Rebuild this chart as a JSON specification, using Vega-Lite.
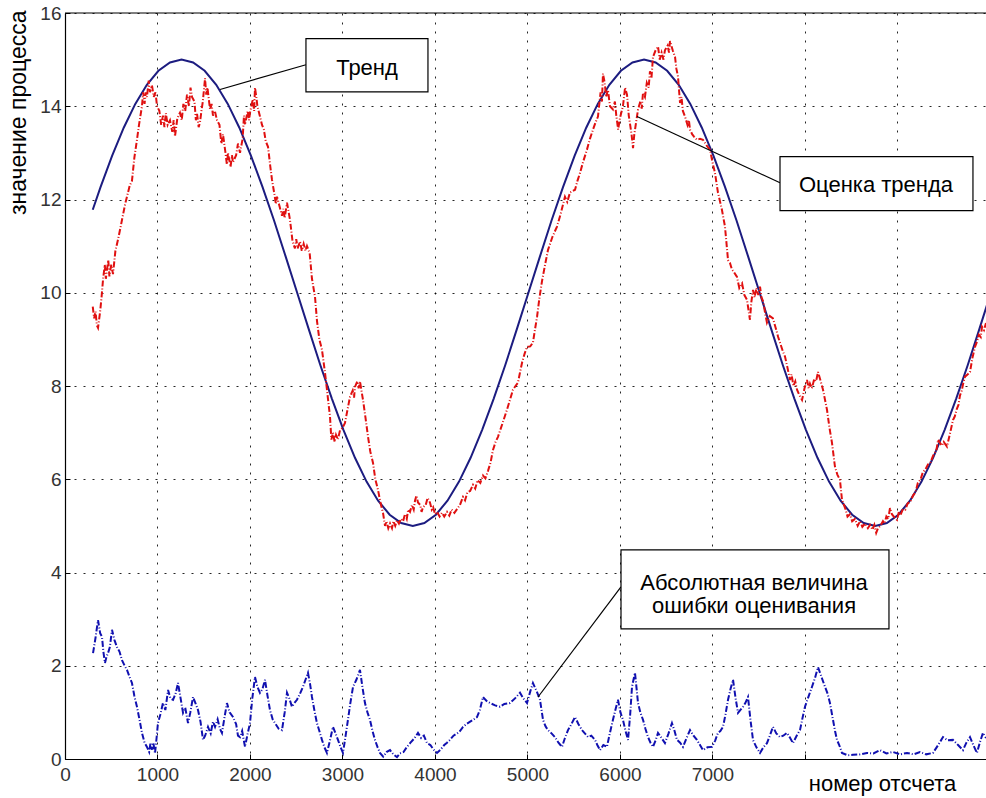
{
  "$schema": "https://vega.github.io/schema/vega-lite/v6.json",
  "width": 921,
  "height": 746,
  "autosize": {"type": "none"},
  "padding": {"left": 65, "top": 13, "right": 0, "bottom": 39},
  "background": "white",
  "config": {"font": "Liberation Sans", "view": {"stroke": null}},
  "datasets": {
    "trend": [
      {"x": 300, "y": 11.78}, {"x": 385, "y": 12.27}, {"x": 510, "y": 12.94}, {"x": 635, "y": 13.54}, {"x": 760, "y": 14.05}, {"x": 885, "y": 14.46}, {"x": 1010, "y": 14.76}, {"x": 1135, "y": 14.94}, {"x": 1260, "y": 15}, {"x": 1385, "y": 14.94}, {"x": 1510, "y": 14.76}, {"x": 1635, "y": 14.46}, {"x": 1760, "y": 14.05}, {"x": 1885, "y": 13.54}, {"x": 2010, "y": 12.94}, {"x": 2135, "y": 12.27}, {"x": 2260, "y": 11.55}, {"x": 2385, "y": 10.78}, {"x": 2510, "y": 10}, {"x": 2635, "y": 9.22}, {"x": 2760, "y": 8.45}, {"x": 2885, "y": 7.73}, {"x": 3010, "y": 7.06}, {"x": 3135, "y": 6.46}, {"x": 3260, "y": 5.95}, {"x": 3385, "y": 5.54}, {"x": 3510, "y": 5.24}, {"x": 3635, "y": 5.06}, {"x": 3760, "y": 5}, {"x": 3885, "y": 5.06}, {"x": 4010, "y": 5.24}, {"x": 4135, "y": 5.54}, {"x": 4260, "y": 5.95}, {"x": 4385, "y": 6.46}, {"x": 4510, "y": 7.06}, {"x": 4635, "y": 7.73}, {"x": 4760, "y": 8.45}, {"x": 4885, "y": 9.22}, {"x": 5010, "y": 10}, {"x": 5135, "y": 10.78}, {"x": 5260, "y": 11.55}, {"x": 5385, "y": 12.27}, {"x": 5510, "y": 12.94}, {"x": 5635, "y": 13.54}, {"x": 5760, "y": 14.05}, {"x": 5885, "y": 14.46}, {"x": 6010, "y": 14.76}, {"x": 6135, "y": 14.94}, {"x": 6260, "y": 15}, {"x": 6385, "y": 14.94}, {"x": 6510, "y": 14.76}, {"x": 6635, "y": 14.46}, {"x": 6760, "y": 14.05}, {"x": 6885, "y": 13.54}, {"x": 7010, "y": 12.94}, {"x": 7135, "y": 12.27}, {"x": 7260, "y": 11.55}, {"x": 7385, "y": 10.78}, {"x": 7510, "y": 10}, {"x": 7635, "y": 9.22}, {"x": 7760, "y": 8.45}, {"x": 7885, "y": 7.73}, {"x": 8010, "y": 7.06}, {"x": 8135, "y": 6.46}, {"x": 8260, "y": 5.95}, {"x": 8385, "y": 5.54}, {"x": 8510, "y": 5.24}, {"x": 8635, "y": 5.06}, {"x": 8760, "y": 5}, {"x": 8885, "y": 5.06}, {"x": 9010, "y": 5.24}, {"x": 9135, "y": 5.54}, {"x": 9260, "y": 5.95}, {"x": 9385, "y": 6.46}, {"x": 9510, "y": 7.06}, {"x": 9635, "y": 7.73}, {"x": 9760, "y": 8.45}, {"x": 9885, "y": 9.22}, {"x": 10010, "y": 10}
    ],
    "est": [
      {"x": 300, "y": 9.7}, {"x": 315, "y": 9.45}, {"x": 330, "y": 9.6}, {"x": 345, "y": 9.3}, {"x": 357, "y": 9.25}, {"x": 380, "y": 9.6}, {"x": 395, "y": 9.9}, {"x": 411, "y": 10.28}, {"x": 430, "y": 10.6}, {"x": 442, "y": 10.3}, {"x": 454, "y": 10.5}, {"x": 468, "y": 10.7}, {"x": 480, "y": 10.35}, {"x": 500, "y": 10.6}, {"x": 519, "y": 10.4}, {"x": 545, "y": 10.9}, {"x": 573, "y": 11.14}, {"x": 600, "y": 11.4}, {"x": 630, "y": 11.7}, {"x": 650, "y": 11.9}, {"x": 670, "y": 12.06}, {"x": 700, "y": 12.3}, {"x": 724, "y": 12.4}, {"x": 750, "y": 12.9}, {"x": 778, "y": 13.28}, {"x": 800, "y": 13.6}, {"x": 832, "y": 14.0}, {"x": 845, "y": 14.3}, {"x": 860, "y": 14.05}, {"x": 873, "y": 14.3}, {"x": 886, "y": 14.2}, {"x": 905, "y": 14.55}, {"x": 919, "y": 14.3}, {"x": 940, "y": 14.45}, {"x": 960, "y": 14.2}, {"x": 978, "y": 14.3}, {"x": 995, "y": 14.0}, {"x": 1020, "y": 13.9}, {"x": 1040, "y": 13.6}, {"x": 1059, "y": 13.8}, {"x": 1075, "y": 13.55}, {"x": 1090, "y": 13.85}, {"x": 1110, "y": 13.6}, {"x": 1135, "y": 13.7}, {"x": 1160, "y": 13.45}, {"x": 1175, "y": 13.7}, {"x": 1189, "y": 13.35}, {"x": 1215, "y": 13.75}, {"x": 1243, "y": 13.86}, {"x": 1262, "y": 13.7}, {"x": 1280, "y": 14.05}, {"x": 1300, "y": 13.9}, {"x": 1319, "y": 14.25}, {"x": 1340, "y": 14.0}, {"x": 1357, "y": 14.4}, {"x": 1373, "y": 14.2}, {"x": 1400, "y": 14.1}, {"x": 1415, "y": 13.7}, {"x": 1427, "y": 13.85}, {"x": 1445, "y": 13.55}, {"x": 1459, "y": 13.65}, {"x": 1475, "y": 13.9}, {"x": 1490, "y": 14.1}, {"x": 1514, "y": 14.6}, {"x": 1527, "y": 14.25}, {"x": 1540, "y": 14.4}, {"x": 1568, "y": 13.93}, {"x": 1585, "y": 14.05}, {"x": 1600, "y": 13.8}, {"x": 1620, "y": 13.9}, {"x": 1643, "y": 13.7}, {"x": 1670, "y": 13.6}, {"x": 1690, "y": 13.2}, {"x": 1708, "y": 13.4}, {"x": 1735, "y": 13.0}, {"x": 1750, "y": 12.75}, {"x": 1762, "y": 13.0}, {"x": 1790, "y": 12.7}, {"x": 1805, "y": 12.95}, {"x": 1816, "y": 12.8}, {"x": 1850, "y": 12.95}, {"x": 1870, "y": 13.2}, {"x": 1892, "y": 13.0}, {"x": 1920, "y": 13.3}, {"x": 1935, "y": 13.8}, {"x": 1946, "y": 13.6}, {"x": 1975, "y": 13.9}, {"x": 1990, "y": 13.7}, {"x": 2000, "y": 13.86}, {"x": 2030, "y": 14.15}, {"x": 2045, "y": 13.9}, {"x": 2054, "y": 14.4}, {"x": 2068, "y": 14.2}, {"x": 2080, "y": 14.0}, {"x": 2108, "y": 13.78}, {"x": 2130, "y": 13.6}, {"x": 2150, "y": 13.5}, {"x": 2170, "y": 13.25}, {"x": 2195, "y": 13.13}, {"x": 2220, "y": 12.7}, {"x": 2238, "y": 12.42}, {"x": 2265, "y": 12.1}, {"x": 2280, "y": 11.9}, {"x": 2292, "y": 12.06}, {"x": 2320, "y": 11.85}, {"x": 2346, "y": 11.65}, {"x": 2360, "y": 11.8}, {"x": 2375, "y": 11.6}, {"x": 2400, "y": 11.93}, {"x": 2432, "y": 11.57}, {"x": 2460, "y": 11.1}, {"x": 2486, "y": 10.95}, {"x": 2500, "y": 11.15}, {"x": 2515, "y": 10.95}, {"x": 2541, "y": 11.1}, {"x": 2560, "y": 10.9}, {"x": 2580, "y": 11.05}, {"x": 2600, "y": 10.9}, {"x": 2616, "y": 11.0}, {"x": 2645, "y": 10.85}, {"x": 2670, "y": 10.3}, {"x": 2703, "y": 9.91}, {"x": 2724, "y": 9.4}, {"x": 2750, "y": 9.0}, {"x": 2778, "y": 8.78}, {"x": 2810, "y": 8.3}, {"x": 2832, "y": 7.92}, {"x": 2865, "y": 7.34}, {"x": 2880, "y": 6.85}, {"x": 2897, "y": 7.0}, {"x": 2915, "y": 6.8}, {"x": 2930, "y": 6.95}, {"x": 2950, "y": 6.85}, {"x": 2973, "y": 7.05}, {"x": 3000, "y": 7.1}, {"x": 3027, "y": 7.21}, {"x": 3055, "y": 7.5}, {"x": 3081, "y": 7.77}, {"x": 3110, "y": 7.9}, {"x": 3125, "y": 7.75}, {"x": 3135, "y": 7.98}, {"x": 3160, "y": 8.1}, {"x": 3175, "y": 7.95}, {"x": 3189, "y": 8.1}, {"x": 3205, "y": 7.9}, {"x": 3222, "y": 7.7}, {"x": 3250, "y": 7.3}, {"x": 3276, "y": 6.91}, {"x": 3300, "y": 6.6}, {"x": 3330, "y": 6.35}, {"x": 3355, "y": 6.0}, {"x": 3384, "y": 5.77}, {"x": 3410, "y": 5.5}, {"x": 3438, "y": 5.28}, {"x": 3460, "y": 5.0}, {"x": 3475, "y": 5.1}, {"x": 3495, "y": 4.95}, {"x": 3514, "y": 5.05}, {"x": 3535, "y": 4.95}, {"x": 3550, "y": 5.1}, {"x": 3570, "y": 5.0}, {"x": 3589, "y": 5.12}, {"x": 3610, "y": 5.05}, {"x": 3630, "y": 5.15}, {"x": 3655, "y": 5.1}, {"x": 3676, "y": 5.25}, {"x": 3695, "y": 5.15}, {"x": 3710, "y": 5.35}, {"x": 3730, "y": 5.3}, {"x": 3751, "y": 5.45}, {"x": 3770, "y": 5.35}, {"x": 3785, "y": 5.55}, {"x": 3800, "y": 5.65}, {"x": 3816, "y": 5.5}, {"x": 3840, "y": 5.45}, {"x": 3855, "y": 5.3}, {"x": 3870, "y": 5.4}, {"x": 3900, "y": 5.45}, {"x": 3920, "y": 5.6}, {"x": 3946, "y": 5.5}, {"x": 3965, "y": 5.35}, {"x": 3980, "y": 5.4}, {"x": 4000, "y": 5.25}, {"x": 4022, "y": 5.3}, {"x": 4050, "y": 5.2}, {"x": 4075, "y": 5.28}, {"x": 4100, "y": 5.2}, {"x": 4130, "y": 5.3}, {"x": 4155, "y": 5.22}, {"x": 4180, "y": 5.35}, {"x": 4210, "y": 5.28}, {"x": 4238, "y": 5.36}, {"x": 4270, "y": 5.45}, {"x": 4303, "y": 5.62}, {"x": 4325, "y": 5.55}, {"x": 4350, "y": 5.72}, {"x": 4380, "y": 5.75}, {"x": 4411, "y": 5.88}, {"x": 4435, "y": 5.8}, {"x": 4460, "y": 5.98}, {"x": 4490, "y": 5.92}, {"x": 4519, "y": 6.08}, {"x": 4545, "y": 6.02}, {"x": 4573, "y": 6.18}, {"x": 4600, "y": 6.35}, {"x": 4627, "y": 6.63}, {"x": 4655, "y": 6.8}, {"x": 4681, "y": 6.91}, {"x": 4730, "y": 7.2}, {"x": 4778, "y": 7.49}, {"x": 4810, "y": 7.7}, {"x": 4843, "y": 7.92}, {"x": 4870, "y": 8.0}, {"x": 4897, "y": 8.07}, {"x": 4920, "y": 8.3}, {"x": 4941, "y": 8.5}, {"x": 4970, "y": 8.7}, {"x": 4995, "y": 8.84}, {"x": 5030, "y": 8.85}, {"x": 5059, "y": 8.93}, {"x": 5080, "y": 9.2}, {"x": 5103, "y": 9.48}, {"x": 5130, "y": 9.9}, {"x": 5157, "y": 10.25}, {"x": 5190, "y": 10.6}, {"x": 5222, "y": 10.92}, {"x": 5270, "y": 11.2}, {"x": 5319, "y": 11.42}, {"x": 5360, "y": 11.7}, {"x": 5405, "y": 12.06}, {"x": 5430, "y": 11.95}, {"x": 5460, "y": 12.15}, {"x": 5514, "y": 12.21}, {"x": 5540, "y": 12.4}, {"x": 5568, "y": 12.57}, {"x": 5600, "y": 12.8}, {"x": 5643, "y": 13.07}, {"x": 5675, "y": 13.3}, {"x": 5708, "y": 13.5}, {"x": 5735, "y": 13.65}, {"x": 5762, "y": 13.78}, {"x": 5790, "y": 14.3}, {"x": 5805, "y": 14.1}, {"x": 5816, "y": 14.7}, {"x": 5835, "y": 14.5}, {"x": 5850, "y": 14.2}, {"x": 5870, "y": 14.35}, {"x": 5892, "y": 14.0}, {"x": 5924, "y": 13.93}, {"x": 5945, "y": 14.1}, {"x": 5960, "y": 13.8}, {"x": 5980, "y": 13.5}, {"x": 6000, "y": 13.75}, {"x": 6032, "y": 14.0}, {"x": 6055, "y": 14.4}, {"x": 6076, "y": 14.25}, {"x": 6095, "y": 13.8}, {"x": 6110, "y": 13.6}, {"x": 6125, "y": 13.4}, {"x": 6141, "y": 13.1}, {"x": 6155, "y": 13.4}, {"x": 6170, "y": 13.6}, {"x": 6195, "y": 13.93}, {"x": 6220, "y": 14.1}, {"x": 6235, "y": 13.95}, {"x": 6249, "y": 14.29}, {"x": 6270, "y": 14.2}, {"x": 6290, "y": 14.5}, {"x": 6310, "y": 14.4}, {"x": 6324, "y": 14.75}, {"x": 6340, "y": 14.6}, {"x": 6357, "y": 15.06}, {"x": 6385, "y": 15.2}, {"x": 6411, "y": 15.28}, {"x": 6430, "y": 15.0}, {"x": 6450, "y": 15.15}, {"x": 6470, "y": 15.0}, {"x": 6486, "y": 15.2}, {"x": 6515, "y": 15.3}, {"x": 6530, "y": 15.15}, {"x": 6541, "y": 15.4}, {"x": 6570, "y": 15.2}, {"x": 6595, "y": 15.06}, {"x": 6610, "y": 14.8}, {"x": 6627, "y": 14.64}, {"x": 6649, "y": 14.07}, {"x": 6665, "y": 14.2}, {"x": 6680, "y": 13.9}, {"x": 6703, "y": 13.78}, {"x": 6730, "y": 13.6}, {"x": 6745, "y": 13.7}, {"x": 6757, "y": 13.5}, {"x": 6780, "y": 13.4}, {"x": 6800, "y": 13.35}, {"x": 6832, "y": 13.28}, {"x": 6865, "y": 13.3}, {"x": 6897, "y": 13.28}, {"x": 6940, "y": 13.15}, {"x": 6973, "y": 13.07}, {"x": 7000, "y": 12.8}, {"x": 7027, "y": 12.57}, {"x": 7059, "y": 12.15}, {"x": 7100, "y": 11.8}, {"x": 7135, "y": 11.42}, {"x": 7168, "y": 10.7}, {"x": 7189, "y": 10.64}, {"x": 7210, "y": 10.5}, {"x": 7230, "y": 10.45}, {"x": 7265, "y": 10.34}, {"x": 7290, "y": 10.1}, {"x": 7320, "y": 10.2}, {"x": 7345, "y": 9.95}, {"x": 7373, "y": 9.85}, {"x": 7405, "y": 9.42}, {"x": 7420, "y": 9.8}, {"x": 7438, "y": 10.06}, {"x": 7455, "y": 9.9}, {"x": 7475, "y": 10.1}, {"x": 7495, "y": 9.95}, {"x": 7514, "y": 10.13}, {"x": 7530, "y": 9.9}, {"x": 7550, "y": 9.8}, {"x": 7570, "y": 9.55}, {"x": 7589, "y": 9.36}, {"x": 7620, "y": 9.5}, {"x": 7654, "y": 9.45}, {"x": 7690, "y": 9.2}, {"x": 7710, "y": 9.05}, {"x": 7730, "y": 8.93}, {"x": 7760, "y": 8.75}, {"x": 7784, "y": 8.63}, {"x": 7810, "y": 8.4}, {"x": 7838, "y": 8.13}, {"x": 7855, "y": 8.25}, {"x": 7875, "y": 8.0}, {"x": 7895, "y": 8.1}, {"x": 7914, "y": 7.92}, {"x": 7940, "y": 7.8}, {"x": 7968, "y": 7.7}, {"x": 7995, "y": 7.95}, {"x": 8022, "y": 8.13}, {"x": 8040, "y": 7.95}, {"x": 8054, "y": 8.05}, {"x": 8075, "y": 7.95}, {"x": 8100, "y": 8.15}, {"x": 8120, "y": 8.1}, {"x": 8141, "y": 8.3}, {"x": 8170, "y": 8.1}, {"x": 8195, "y": 7.92}, {"x": 8238, "y": 7.49}, {"x": 8265, "y": 7.1}, {"x": 8292, "y": 6.78}, {"x": 8324, "y": 6.27}, {"x": 8350, "y": 6.1}, {"x": 8378, "y": 5.99}, {"x": 8400, "y": 5.56}, {"x": 8440, "y": 5.35}, {"x": 8460, "y": 5.2}, {"x": 8486, "y": 5.25}, {"x": 8510, "y": 5.1}, {"x": 8540, "y": 5.15}, {"x": 8570, "y": 5.0}, {"x": 8595, "y": 5.1}, {"x": 8620, "y": 4.98}, {"x": 8650, "y": 5.05}, {"x": 8680, "y": 4.95}, {"x": 8703, "y": 5.02}, {"x": 8730, "y": 4.92}, {"x": 8750, "y": 5.02}, {"x": 8770, "y": 4.85}, {"x": 8789, "y": 4.95}, {"x": 8815, "y": 5.0}, {"x": 8843, "y": 5.1}, {"x": 8860, "y": 5.05}, {"x": 8880, "y": 5.2}, {"x": 8900, "y": 5.15}, {"x": 8919, "y": 5.38}, {"x": 8940, "y": 5.25}, {"x": 8960, "y": 5.2}, {"x": 8995, "y": 5.13}, {"x": 9015, "y": 5.3}, {"x": 9030, "y": 5.22}, {"x": 9059, "y": 5.36}, {"x": 9085, "y": 5.35}, {"x": 9110, "y": 5.48}, {"x": 9140, "y": 5.52}, {"x": 9168, "y": 5.65}, {"x": 9195, "y": 5.72}, {"x": 9220, "y": 5.92}, {"x": 9250, "y": 6.0}, {"x": 9276, "y": 6.16}, {"x": 9300, "y": 6.2}, {"x": 9330, "y": 6.32}, {"x": 9355, "y": 6.35}, {"x": 9384, "y": 6.5}, {"x": 9420, "y": 6.62}, {"x": 9440, "y": 6.85}, {"x": 9459, "y": 6.78}, {"x": 9480, "y": 6.72}, {"x": 9500, "y": 6.8}, {"x": 9535, "y": 6.7}, {"x": 9570, "y": 7.0}, {"x": 9600, "y": 7.27}, {"x": 9620, "y": 7.35}, {"x": 9640, "y": 7.5}, {"x": 9660, "y": 7.6}, {"x": 9676, "y": 7.8}, {"x": 9695, "y": 7.9}, {"x": 9710, "y": 8.05}, {"x": 9730, "y": 8.2}, {"x": 9760, "y": 8.25}, {"x": 9784, "y": 8.3}, {"x": 9810, "y": 8.6}, {"x": 9838, "y": 8.84}, {"x": 9860, "y": 8.95}, {"x": 9880, "y": 9.1}, {"x": 9900, "y": 9.05}, {"x": 9914, "y": 9.27}, {"x": 9935, "y": 9.2}, {"x": 9957, "y": 9.35}
    ],
    "err": [
      {"x": 303, "y": 2.27}, {"x": 330, "y": 2.6}, {"x": 357, "y": 2.98}, {"x": 380, "y": 2.7}, {"x": 400, "y": 2.62}, {"x": 415, "y": 2.3}, {"x": 432, "y": 2.06}, {"x": 450, "y": 2.2}, {"x": 465, "y": 2.27}, {"x": 485, "y": 2.4}, {"x": 508, "y": 2.77}, {"x": 535, "y": 2.55}, {"x": 562, "y": 2.4}, {"x": 590, "y": 2.3}, {"x": 616, "y": 2.12}, {"x": 645, "y": 2.0}, {"x": 670, "y": 1.91}, {"x": 700, "y": 1.75}, {"x": 724, "y": 1.63}, {"x": 750, "y": 1.35}, {"x": 778, "y": 1.12}, {"x": 805, "y": 0.85}, {"x": 832, "y": 0.56}, {"x": 860, "y": 0.35}, {"x": 886, "y": 0.26}, {"x": 910, "y": 0.15}, {"x": 925, "y": 0.35}, {"x": 941, "y": 0.2}, {"x": 955, "y": 0.35}, {"x": 973, "y": 0.12}, {"x": 990, "y": 0.45}, {"x": 1005, "y": 0.77}, {"x": 1030, "y": 0.95}, {"x": 1059, "y": 1.2}, {"x": 1085, "y": 1.05}, {"x": 1114, "y": 1.48}, {"x": 1140, "y": 1.3}, {"x": 1168, "y": 1.27}, {"x": 1195, "y": 1.4}, {"x": 1222, "y": 1.63}, {"x": 1250, "y": 1.3}, {"x": 1276, "y": 0.99}, {"x": 1300, "y": 1.1}, {"x": 1330, "y": 0.77}, {"x": 1355, "y": 1.0}, {"x": 1384, "y": 1.33}, {"x": 1410, "y": 1.2}, {"x": 1438, "y": 1.05}, {"x": 1465, "y": 0.8}, {"x": 1492, "y": 0.41}, {"x": 1515, "y": 0.5}, {"x": 1546, "y": 0.69}, {"x": 1575, "y": 0.55}, {"x": 1600, "y": 0.8}, {"x": 1622, "y": 0.69}, {"x": 1650, "y": 0.85}, {"x": 1675, "y": 0.65}, {"x": 1697, "y": 0.56}, {"x": 1725, "y": 0.9}, {"x": 1751, "y": 1.2}, {"x": 1780, "y": 1.0}, {"x": 1816, "y": 0.9}, {"x": 1850, "y": 0.75}, {"x": 1870, "y": 0.5}, {"x": 1892, "y": 0.47}, {"x": 1915, "y": 0.6}, {"x": 1946, "y": 0.26}, {"x": 1970, "y": 0.5}, {"x": 2000, "y": 0.77}, {"x": 2025, "y": 1.3}, {"x": 2054, "y": 1.76}, {"x": 2080, "y": 1.55}, {"x": 2108, "y": 1.42}, {"x": 2135, "y": 1.5}, {"x": 2162, "y": 1.7}, {"x": 2190, "y": 1.35}, {"x": 2216, "y": 1.05}, {"x": 2245, "y": 0.85}, {"x": 2270, "y": 0.77}, {"x": 2310, "y": 0.65}, {"x": 2346, "y": 0.62}, {"x": 2375, "y": 1.0}, {"x": 2400, "y": 1.42}, {"x": 2425, "y": 1.3}, {"x": 2454, "y": 1.12}, {"x": 2480, "y": 1.2}, {"x": 2508, "y": 1.27}, {"x": 2540, "y": 1.4}, {"x": 2573, "y": 1.55}, {"x": 2600, "y": 1.7}, {"x": 2627, "y": 1.85}, {"x": 2650, "y": 1.6}, {"x": 2670, "y": 1.33}, {"x": 2700, "y": 1.0}, {"x": 2724, "y": 0.77}, {"x": 2750, "y": 0.6}, {"x": 2778, "y": 0.41}, {"x": 2805, "y": 0.25}, {"x": 2832, "y": 0.13}, {"x": 2865, "y": 0.4}, {"x": 2897, "y": 0.69}, {"x": 2925, "y": 0.55}, {"x": 2951, "y": 0.41}, {"x": 2980, "y": 0.25}, {"x": 3005, "y": 0.13}, {"x": 3030, "y": 0.45}, {"x": 3059, "y": 0.84}, {"x": 3085, "y": 1.2}, {"x": 3114, "y": 1.55}, {"x": 3150, "y": 1.7}, {"x": 3189, "y": 1.91}, {"x": 3215, "y": 1.55}, {"x": 3243, "y": 1.2}, {"x": 3270, "y": 1.0}, {"x": 3297, "y": 0.84}, {"x": 3325, "y": 0.6}, {"x": 3351, "y": 0.41}, {"x": 3380, "y": 0.25}, {"x": 3405, "y": 0.13}, {"x": 3440, "y": 0.05}, {"x": 3475, "y": 0.15}, {"x": 3514, "y": 0.19}, {"x": 3550, "y": 0.1}, {"x": 3589, "y": 0.04}, {"x": 3620, "y": 0.12}, {"x": 3660, "y": 0.15}, {"x": 3697, "y": 0.26}, {"x": 3735, "y": 0.35}, {"x": 3780, "y": 0.45}, {"x": 3816, "y": 0.56}, {"x": 3850, "y": 0.45}, {"x": 3880, "y": 0.5}, {"x": 3914, "y": 0.34}, {"x": 3950, "y": 0.3}, {"x": 3985, "y": 0.2}, {"x": 4022, "y": 0.13}, {"x": 4060, "y": 0.2}, {"x": 4100, "y": 0.3}, {"x": 4130, "y": 0.35}, {"x": 4162, "y": 0.41}, {"x": 4200, "y": 0.5}, {"x": 4240, "y": 0.55}, {"x": 4270, "y": 0.6}, {"x": 4303, "y": 0.69}, {"x": 4340, "y": 0.75}, {"x": 4380, "y": 0.8}, {"x": 4420, "y": 0.85}, {"x": 4454, "y": 0.9}, {"x": 4485, "y": 1.05}, {"x": 4519, "y": 1.33}, {"x": 4555, "y": 1.25}, {"x": 4595, "y": 1.2}, {"x": 4650, "y": 1.15}, {"x": 4703, "y": 1.12}, {"x": 4750, "y": 1.18}, {"x": 4811, "y": 1.2}, {"x": 4865, "y": 1.3}, {"x": 4919, "y": 1.42}, {"x": 4955, "y": 1.3}, {"x": 4995, "y": 1.2}, {"x": 5030, "y": 1.45}, {"x": 5059, "y": 1.63}, {"x": 5100, "y": 1.45}, {"x": 5135, "y": 1.27}, {"x": 5168, "y": 0.84}, {"x": 5195, "y": 0.7}, {"x": 5222, "y": 0.62}, {"x": 5260, "y": 0.55}, {"x": 5297, "y": 0.47}, {"x": 5335, "y": 0.35}, {"x": 5373, "y": 0.26}, {"x": 5405, "y": 0.45}, {"x": 5438, "y": 0.62}, {"x": 5475, "y": 0.75}, {"x": 5514, "y": 0.9}, {"x": 5550, "y": 0.75}, {"x": 5589, "y": 0.62}, {"x": 5620, "y": 0.55}, {"x": 5654, "y": 0.47}, {"x": 5690, "y": 0.5}, {"x": 5730, "y": 0.41}, {"x": 5755, "y": 0.3}, {"x": 5784, "y": 0.19}, {"x": 5820, "y": 0.3}, {"x": 5859, "y": 0.26}, {"x": 5890, "y": 0.55}, {"x": 5924, "y": 0.84}, {"x": 5950, "y": 1.05}, {"x": 5978, "y": 1.27}, {"x": 6005, "y": 1.0}, {"x": 6032, "y": 0.84}, {"x": 6060, "y": 0.6}, {"x": 6087, "y": 0.41}, {"x": 6110, "y": 0.95}, {"x": 6130, "y": 1.55}, {"x": 6162, "y": 1.85}, {"x": 6180, "y": 1.5}, {"x": 6195, "y": 1.2}, {"x": 6220, "y": 1.0}, {"x": 6249, "y": 0.84}, {"x": 6275, "y": 0.65}, {"x": 6303, "y": 0.47}, {"x": 6330, "y": 0.35}, {"x": 6357, "y": 0.26}, {"x": 6385, "y": 0.4}, {"x": 6411, "y": 0.56}, {"x": 6450, "y": 0.45}, {"x": 6486, "y": 0.34}, {"x": 6525, "y": 0.55}, {"x": 6562, "y": 0.77}, {"x": 6590, "y": 0.6}, {"x": 6616, "y": 0.41}, {"x": 6650, "y": 0.35}, {"x": 6681, "y": 0.26}, {"x": 6720, "y": 0.45}, {"x": 6757, "y": 0.62}, {"x": 6795, "y": 0.5}, {"x": 6832, "y": 0.41}, {"x": 6865, "y": 0.3}, {"x": 6897, "y": 0.19}, {"x": 6945, "y": 0.25}, {"x": 6995, "y": 0.26}, {"x": 7030, "y": 0.4}, {"x": 7059, "y": 0.56}, {"x": 7085, "y": 0.6}, {"x": 7114, "y": 0.69}, {"x": 7140, "y": 0.95}, {"x": 7168, "y": 1.27}, {"x": 7195, "y": 1.5}, {"x": 7222, "y": 1.7}, {"x": 7250, "y": 1.3}, {"x": 7276, "y": 0.99}, {"x": 7300, "y": 1.05}, {"x": 7330, "y": 1.12}, {"x": 7355, "y": 1.2}, {"x": 7384, "y": 1.33}, {"x": 7410, "y": 0.85}, {"x": 7438, "y": 0.41}, {"x": 7475, "y": 0.25}, {"x": 7514, "y": 0.13}, {"x": 7550, "y": 0.25}, {"x": 7589, "y": 0.34}, {"x": 7620, "y": 0.5}, {"x": 7654, "y": 0.69}, {"x": 7690, "y": 0.55}, {"x": 7730, "y": 0.47}, {"x": 7765, "y": 0.5}, {"x": 7805, "y": 0.56}, {"x": 7840, "y": 0.45}, {"x": 7870, "y": 0.34}, {"x": 7910, "y": 0.5}, {"x": 7946, "y": 0.62}, {"x": 7970, "y": 0.85}, {"x": 8000, "y": 1.12}, {"x": 8040, "y": 1.35}, {"x": 8076, "y": 1.55}, {"x": 8110, "y": 1.75}, {"x": 8141, "y": 1.97}, {"x": 8180, "y": 1.75}, {"x": 8216, "y": 1.55}, {"x": 8245, "y": 1.4}, {"x": 8270, "y": 1.2}, {"x": 8303, "y": 0.84}, {"x": 8325, "y": 0.6}, {"x": 8346, "y": 0.41}, {"x": 8370, "y": 0.3}, {"x": 8400, "y": 0.13}, {"x": 8460, "y": 0.08}, {"x": 8519, "y": 0.09}, {"x": 8595, "y": 0.1}, {"x": 8670, "y": 0.13}, {"x": 8740, "y": 0.12}, {"x": 8811, "y": 0.19}, {"x": 8880, "y": 0.12}, {"x": 8951, "y": 0.15}, {"x": 9030, "y": 0.1}, {"x": 9103, "y": 0.13}, {"x": 9175, "y": 0.1}, {"x": 9243, "y": 0.15}, {"x": 9310, "y": 0.1}, {"x": 9384, "y": 0.13}, {"x": 9440, "y": 0.3}, {"x": 9492, "y": 0.47}, {"x": 9545, "y": 0.4}, {"x": 9600, "y": 0.41}, {"x": 9655, "y": 0.3}, {"x": 9708, "y": 0.19}, {"x": 9745, "y": 0.35}, {"x": 9784, "y": 0.47}, {"x": 9820, "y": 0.3}, {"x": 9859, "y": 0.13}, {"x": 9890, "y": 0.35}, {"x": 9924, "y": 0.56}, {"x": 9957, "y": 0.45}
    ],
    "boxes": [
      {"x": 2605, "x2": 3924, "y": 14.31, "y2": 15.45},
      {"x": 7730, "x2": 9816, "y": 11.76, "y2": 12.92},
      {"x": 6011, "x2": 8908, "y": 2.79, "y2": 4.485}
    ],
    "leaders": [
      {"x": 2605, "y": 14.89, "x2": 1676, "y2": 14.36},
      {"x": 7730, "y": 12.36, "x2": 6184, "y2": 13.78},
      {"x": 6011, "y": 3.69, "x2": 5114, "y2": 1.33}
    ],
    "labels": [
      {"x": 3265, "y": 14.68, "text": ["Тренд"]},
      {"x": 8768, "y": 12.17, "text": ["Оценка тренда"]},
      {"x": 7449, "y": 3.63, "text": ["Абсолютная величина", "ошибки оценивания"]}
    ]
  },
  "layer": [
    {
      "data": {"name": "trend"},
      "mark": {"type": "line", "color": "#1c1c80", "strokeWidth": 2, "clip": true},
      "encoding": {
        "x": {
          "field": "x", "type": "quantitative",
          "scale": {"domain": [0, 9957], "nice": false, "zero": false},
          "axis": {
            "values": [0, 1000, 2000, 3000, 4000, 5000, 6000, 7000, 8000, 9000],
            "format": "d",
            "labelExpr": "datum.value >= 8000 ? '' : datum.label",
            "labelFontSize": 19, "labelColor": "#333333", "labelPadding": 11,
            "labelFlush": false,
            "ticks": true, "tickSize": -5, "tickColor": "#000000",
            "domainColor": "#000000", "domainWidth": 1.2,
            "grid": true, "gridColor": "#000000", "gridDash": [2, 7], "gridWidth": 1, "gridOpacity": 0.85,
            "title": "номер отсчета", "titleFontSize": 22, "titleFontWeight": "normal", "titleColor": "#000000",
            "titleX": 817, "titleY": 31, "titleAlign": "center", "titleBaseline": "alphabetic"
          }
        },
        "y": {
          "field": "y", "type": "quantitative",
          "scale": {"domain": [0, 16], "nice": false},
          "axis": {
            "values": [0, 2, 4, 6, 8, 10, 12, 14, 16],
            "labelFontSize": 19, "labelColor": "#333333", "labelPadding": 9,
            "labelFlush": false,
            "ticks": true, "tickSize": -5, "tickColor": "#000000",
            "domainColor": "#000000", "domainWidth": 1.2,
            "grid": true, "gridColor": "#000000", "gridDash": [2, 7], "gridWidth": 1, "gridOpacity": 0.85,
            "title": "значение процесса", "titleFontSize": 23, "titleFontWeight": "normal", "titleColor": "#000000",
            "titleAngle": -90, "titleX": -40, "titleY": -3, "titleAlign": "right", "titleBaseline": "alphabetic"
          }
        }
      }
    },
    {
      "data": {"name": "est"},
      "mark": {"type": "line", "color": "#e01010", "strokeWidth": 2, "strokeDash": [6, 2, 1, 2], "clip": true},
      "encoding": {
        "x": {"field": "x", "type": "quantitative"},
        "y": {"field": "y", "type": "quantitative"}
      }
    },
    {
      "data": {"name": "err"},
      "mark": {"type": "line", "color": "#1010b0", "strokeWidth": 2, "strokeDash": [6, 2, 1, 2], "clip": true},
      "encoding": {
        "x": {"field": "x", "type": "quantitative"},
        "y": {"field": "y", "type": "quantitative"}
      }
    },
    {
      "data": {"values": [{"v": 16}]},
      "mark": {"type": "rule", "color": "#000000", "strokeWidth": 1.2},
      "encoding": {"y": {"field": "v", "type": "quantitative"}}
    },
    {
      "data": {"name": "leaders"},
      "mark": {"type": "rule", "color": "#000000", "strokeWidth": 1.2},
      "encoding": {
        "x": {"field": "x", "type": "quantitative"},
        "y": {"field": "y", "type": "quantitative"},
        "x2": {"field": "x2"},
        "y2": {"field": "y2"}
      }
    },
    {
      "data": {"name": "boxes"},
      "mark": {"type": "rect", "fill": "#ffffff", "stroke": "#000000", "strokeWidth": 1.2},
      "encoding": {
        "x": {"field": "x", "type": "quantitative"},
        "x2": {"field": "x2"},
        "y": {"field": "y", "type": "quantitative"},
        "y2": {"field": "y2"}
      }
    },
    {
      "data": {"name": "labels"},
      "mark": {"type": "text", "fontSize": 22, "lineHeight": 23, "color": "#000000", "align": "center", "baseline": "alphabetic"},
      "encoding": {
        "x": {"field": "x", "type": "quantitative"},
        "y": {"field": "y", "type": "quantitative"},
        "text": {"field": "text"}
      }
    }
  ]
}
